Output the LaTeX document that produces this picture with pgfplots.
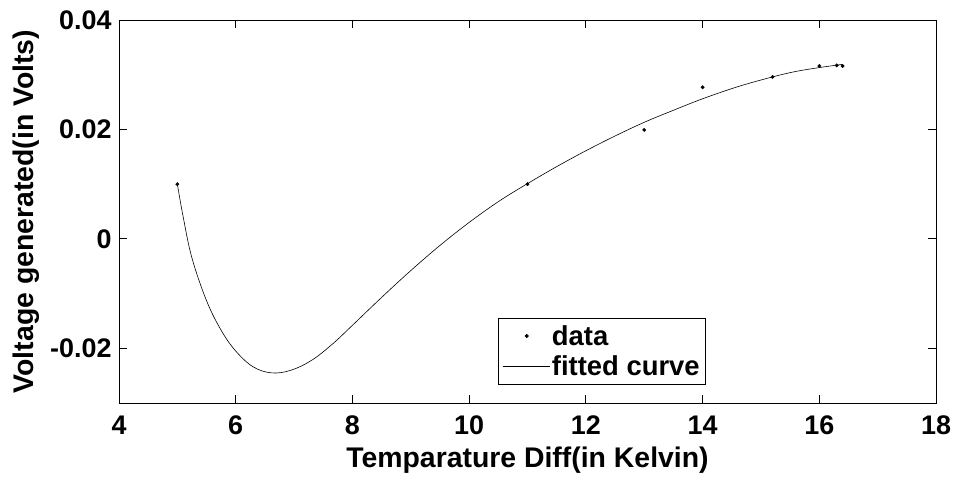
\documentclass[border=0pt]{standalone}
\usepackage{pgfplots}
\pgfplotsset{compat=1.18}
\usepackage{fontspec}
\setmainfont{Liberation Sans}
\pgfplotsset{
  dotlegend/.style={legend image code/.code={\draw[##1] plot coordinates {(24bp,0bp)};}},
  linelegend/.style={legend image code/.code={\draw[##1] (0bp,0bp) -- (47bp,0bp);}},
}
\begin{document}
\begin{tikzpicture}
\begin{axis}[
  scale only axis,
  width=817bp, height=383bp,
  xmin=4, xmax=18, ymin=-0.03, ymax=0.04,
  xtick={4,6,...,18},
  ytick={-0.02,0,0.02,0.04},
  yticklabels={-0.02,0,0.02,0.04},
  scaled y ticks=false,
  tick align=inside,
  major tick length=8bp,
  tick style={black, line width=0.8pt},
  axis line style={black, line width=0.8pt},
  /pgf/number format/assume math mode=true,
  ticklabel style={font=\bfseries\fontsize{27}{27}\selectfont},
  xticklabel style={yshift=-9bp},
  yticklabel style={xshift=-4bp},
  label style={font=\bfseries\fontsize{28.5}{31}\selectfont},
  xlabel={Temparature Diff(in Kelvin)},
  ylabel={Voltage generated(in Volts)},
  xlabel style={yshift=-6bp},
  ylabel style={yshift=4bp},
  legend style={at={(0.464,0.222)}, anchor=north west, draw=black, line width=0.6pt,
    font=\bfseries\fontsize{27.5}{31}\selectfont, inner xsep=4bp, inner ysep=5bp, row sep=5bp},
  legend cell align=left,
]
\addplot[only marks, mark=*, mark size=1.7bp, black, dotlegend]
  coordinates {(5,0.0100)(11,0.0100)(13,0.0199)(14,0.0277)(15.2,0.0296)(16,0.0316)(16.3,0.0317)(16.4,0.0316)};
\addlegendentry{data}
\addplot[black, line width=0.6pt, smooth, tension=0.6, linelegend]
  coordinates {
  (5.00,0.0100)(5.10,0.0040)(5.25,-0.0035)(5.50,-0.0113)(5.75,-0.0167)(6.00,-0.0205)
  (6.30,-0.0234)(6.62,-0.0245)(6.95,-0.0240)(7.30,-0.0222)(7.65,-0.0193)(8.00,-0.0158)
  (8.50,-0.0107)(9.00,-0.0058)(9.50,-0.0012)(10.00,0.0030)(10.50,0.0068)(11.00,0.0101)
  (11.50,0.0132)(12.00,0.0161)(12.50,0.0188)(13.00,0.0213)(13.50,0.0235)(14.00,0.0256)
  (14.60,0.0278)(15.20,0.0296)(15.60,0.0306)(16.00,0.0313)(16.40,0.0319)};
\addlegendentry{fitted curve}
\end{axis}
\pgfresetboundingbox
\path ([shift={(-119bp,-79bp)}]current axis.south west) rectangle ([shift={(17bp,20bp)}]current axis.north east);
\end{tikzpicture}
\end{document}
